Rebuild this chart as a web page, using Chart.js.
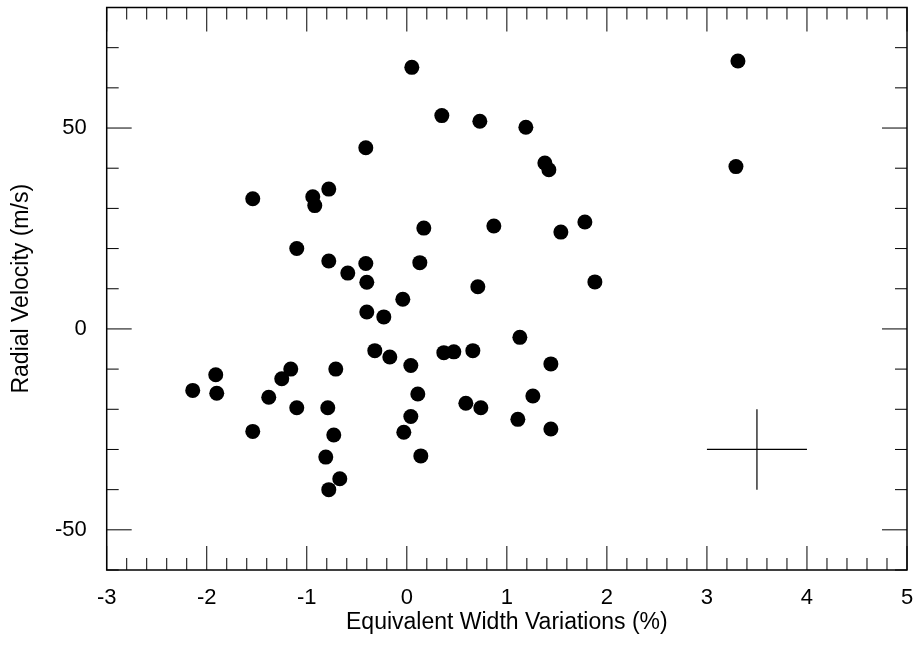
<!DOCTYPE html>
<html>
<head>
<meta charset="utf-8">
<script src="https://cdn.jsdelivr.net/npm/chart.js@4"></script>
<style>
  html, body { margin: 0; padding: 0; background: #fff; }
  #wrap { width: 916px; height: 647px; }
</style>
</head>
<body>
<div id="wrap"><canvas id="ew-rv"></canvas></div>
<script>
// equivalent width variation (%) and radial velocity (m/s), one entry per observation
const ewVariation = [
    0.05, 0.35, 0.73, 1.19, -0.41, -1.54, -0.94, -0.92, -0.78, 0.17,
    0.87, -1.10, -0.78, -0.59, -0.41, -0.40, 0.13, 0.71, -0.04, -0.40,
    -0.23, 3.31, 3.29, 1.38, 1.42, 1.78, 1.54, 1.88, -0.32, -0.17,
    0.04, 0.37, 0.47, 0.66, 1.13, 1.11, 1.44, 1.26, 1.44, -2.14,
    -1.91, -1.90, -1.38, -1.25, -1.16, -1.10, -1.54, -0.71, -0.79, -0.73,
    -0.81, -0.67, -0.78, 0.11, 0.04, -0.03, 0.14, 0.59, 0.74
];
const radialVelocity = [
    65.1, 53.1, 51.7, 50.2, 45.1, 32.4, 32.9, 30.7, 34.8, 25.1,
    25.6, 20.0, 16.9, 13.9, 16.3, 11.6, 16.5, 10.5, 7.4, 4.2,
    3.0, 66.7, 40.4, 41.3, 39.6, 26.6, 24.1, 11.7, -5.4, -7.0,
    -9.1, -5.9, -5.7, -5.4, -2.1, -22.5, -8.7, -16.7, -24.9, -15.3,
    -11.4, -16.0, -17.0, -12.4, -10.0, -19.6, -25.5, -10.0, -19.6, -26.4,
    -31.9, -37.3, -40.0, -16.2, -21.8, -25.7, -31.6, -18.5, -19.6
];

// typical error bar, drawn as a cross
const errCenter = [3.5, -30];
const errX = [3.0, 4.0];
const errY = [-20, -40];

// axes
const xRange = [-3, 5];
const yRange = [-60, 80];
const xTickLabels = [-3, -2, -1, 0, 1, 2, 3, 4, 5];
const yTickLabels = [-50, 0, 50];
const xMinorStep = 0.2;
const yMinorStep = 10;

const points = ewVariation.map((x, i) => ({ x: x, y: radialVelocity[i] }));

const fontFamily = '"Liberation Sans", Arial, Helvetica, sans-serif';

// frame with inward ticks on all four sides
const frameTicks = {
    id: 'frameTicks',
    afterDraw(chart) {
        const ctx = chart.ctx;
        const a = chart.chartArea;
        const xs = chart.scales.x;
        const ys = chart.scales.y;
        ctx.save();
        ctx.strokeStyle = '#000';
        ctx.lineWidth = 1;
        ctx.beginPath();
        for (let v = xRange[0]; v <= xRange[1] + 1e-9; v += xMinorStep) {
            const major = Math.abs(v - Math.round(v)) < 1e-6;
            const len = major ? 24 : 12;
            const px = xs.getPixelForValue(v);
            ctx.moveTo(px, a.bottom); ctx.lineTo(px, a.bottom - len);
            ctx.moveTo(px, a.top); ctx.lineTo(px, a.top + len);
        }
        for (let v = yRange[0]; v <= yRange[1] + 1e-9; v += yMinorStep) {
            const major = yTickLabels.includes(Math.round(v));
            const len = major ? 25 : 12;
            const py = ys.getPixelForValue(v);
            ctx.moveTo(a.left, py); ctx.lineTo(a.left + len, py);
            ctx.moveTo(a.right, py); ctx.lineTo(a.right - len, py);
        }
        ctx.stroke();
        ctx.lineWidth = 1.5;
        ctx.strokeRect(a.left, a.top, a.right - a.left, a.bottom - a.top);
        ctx.restore();
    }
};

new Chart(document.getElementById('ew-rv'), {
    type: 'scatter',
    data: {
        datasets: [
            {
                label: 'observations',
                data: points,
                pointRadius: 7.5,
                pointHoverRadius: 7.5,
                pointBackgroundColor: '#000',
                pointBorderWidth: 0
            },
            {
                label: 'error x',
                type: 'line',
                data: errX.map(x => ({ x: x, y: errCenter[1] })),
                borderColor: '#000',
                borderWidth: 1.2,
                pointRadius: 0,
                fill: false
            },
            {
                label: 'error y',
                type: 'line',
                data: errY.map(y => ({ x: errCenter[0], y: y })),
                borderColor: '#000',
                borderWidth: 1.2,
                pointRadius: 0,
                fill: false
            }
        ]
    },
    options: {
        responsive: true,
        maintainAspectRatio: false,
        animation: false,
        layout: {
            padding: { top: 5, right: 9, left: 0, bottom: 0 }
        },
        plugins: {
            legend: { display: false },
            tooltip: { enabled: false }
        },
        scales: {
            x: {
                type: 'linear',
                min: xRange[0],
                max: xRange[1],
                afterFit(s) {
                    s.height = 77;
                    s.paddingLeft = 0;
                    s.paddingRight = 0;
                },
                afterBuildTicks(s) { s.ticks = xTickLabels.map(v => ({ value: v })); },
                grid: { display: false },
                border: { display: false },
                ticks: {
                    color: '#000',
                    padding: 7,
                    maxRotation: 0,
                    font: { family: fontFamily, size: 22 }
                },
                title: {
                    display: true,
                    text: 'Equivalent Width Variations (%)',
                    color: '#000',
                    padding: { top: 0, bottom: 11 },
                    font: { family: fontFamily, size: 23 }
                }
            },
            y: {
                type: 'linear',
                min: yRange[0],
                max: yRange[1],
                afterFit(s) {
                    s.width = 106.7;
                    s.paddingTop = 0;
                    s.paddingBottom = 0;
                },
                afterBuildTicks(s) { s.ticks = yTickLabels.map(v => ({ value: v })); },
                grid: { display: false },
                border: { display: false },
                ticks: {
                    color: '#000',
                    padding: 12,
                    font: { family: fontFamily, size: 22 }
                },
                title: {
                    display: true,
                    text: 'Radial Velocity (m/s)',
                    color: '#000',
                    padding: { top: 8, bottom: 0 },
                    font: { family: fontFamily, size: 23 }
                }
            }
        }
    },
    plugins: [frameTicks]
});
</script>
</body>
</html>
